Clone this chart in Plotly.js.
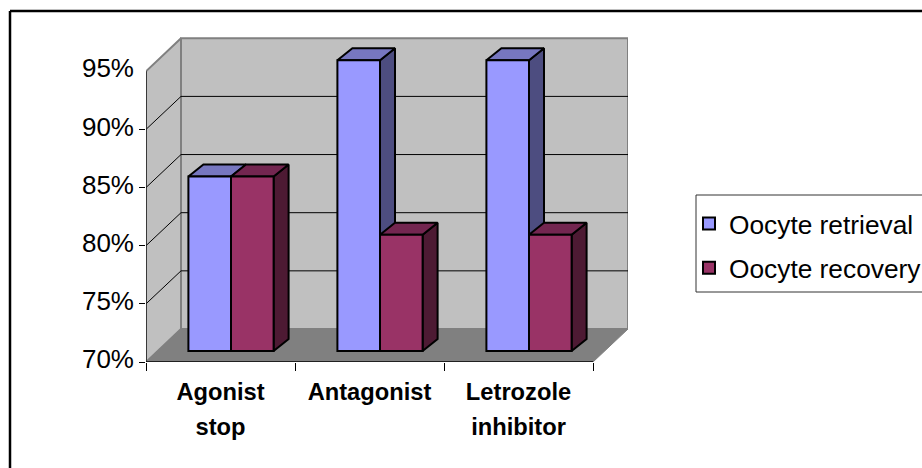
<!DOCTYPE html>
<html><head><meta charset="utf-8">
<script src="https://cdn.plot.ly/plotly-3.0.1.min.js"></script>
<style>html,body{margin:0;padding:0;background:#fff;overflow:hidden}#c{width:922px;height:468px}</style>
</head><body><div id="c"></div>
<script>
const categories = ['Agonist<br>stop', 'Antagonist', 'Letrozole<br>inhibitor'];
const retrieval = [85, 95, 95];
const recovery = [85, 80, 80];
const yTicks = [70, 75, 80, 85, 90, 95];

const W = 922, H = 468, L = 146, T = 36, R = 628, B = 362;
const pxX = 149, pxY = 11.63;
const yMin = 70;
const xMin = -0.5, xMax = xMin + (R - L) / pxX, yMax = yMin + (B - T) / pxY;
const wallDx = 35 / pxX, wallDy = 33 / pxY;
const xFront = xMin + 447 / pxX;
const barLiftX = 10.5 / pxX, barLiftY = 11 / pxY;
const barW = 42.6 / pxX, depX = 15 / pxX, depY = 12 / pxY;
const COLORS = {
  wall: '#C0C0C0', floor: '#808080',
  a: ['#9999FF', '#7777C0', '#4D4D80'],
  b: ['#993366', '#732650', '#4D1A33']
};
const poly = (xs, ys, fill, line, lw, z) => ({
  type: 'scatter', mode: 'lines', x: xs, y: ys, fill: 'toself', fillcolor: fill,
  line: {color: line, width: lw}, showlegend: false, hoverinfo: 'skip', cliponaxis: false, zorder: z
});
const seg = (xs, ys, color, lw, z) => ({
  type: 'scatter', mode: 'lines', x: xs, y: ys, line: {color, width: lw},
  showlegend: false, hoverinfo: 'skip', cliponaxis: false, zorder: z
});

const traces = [];
const yTop = yTicks[yTicks.length - 1];
traces.push(poly([xMin + wallDx, xMax, xMax, xMin + wallDx, xMin + wallDx],
  [yMin + wallDy, yMin + wallDy, yTop + wallDy, yTop + wallDy, yMin + wallDy], COLORS.wall, COLORS.floor, 2, 0));
traces.push(poly([xMin, xMin + wallDx, xMin + wallDx, xMin, xMin],
  [yMin, yMin + wallDy, yTop + wallDy, yTop, yMin], COLORS.wall, COLORS.floor, 2, 0));
traces.push(poly([xMin, xMin + wallDx, xMax, xFront, xMin],
  [yMin, yMin + wallDy, yMin + wallDy, yMin, yMin], COLORS.floor, COLORS.floor, 1, 0));
yTicks.slice(1, -1).forEach(v => {
  traces.push(seg([xMin, xMin + wallDx, xMax], [v, v + wallDy, v + wallDy], '#000', 1, 0));
});
traces.push(seg([xMin, xMin], [yTop, yMin], '#222', 1.5, 0));
traces.push(seg([xMin, xFront], [yMin, yMin], '#000', 1.5, 0));

function addBars(name, values, off, col, zBase) {
  values.forEach((v, i) => {
    const x0 = i + barLiftX + off, x1 = x0 + barW;
    const y0 = yMin + barLiftY, y1 = v + barLiftY;
    traces.push(poly([x1, x1 + depX, x1 + depX, x1, x1], [y0, y0 + depY, y1 + depY, y1, y0], col[2], '#000', 2, zBase));
    traces.push(poly([x0, x0 + depX, x1 + depX, x1, x0], [y1, y1 + depY, y1 + depY, y1, y1], col[1], '#000', 2, zBase));
  });
  traces.push({
    type: 'bar', name, legendgroup: name, x: values.map((v, i) => i + barLiftX + off + barW / 2),
    y: values.map(v => v - yMin), base: yMin + barLiftY, width: barW,
    marker: {color: col[0], line: {color: '#000', width: 2}},
    hoverinfo: 'skip', zorder: zBase + 1, cliponaxis: false
  });
}
addBars('Oocyte retrieval', retrieval, -barW, COLORS.a, 1);
addBars('Oocyte recovery', recovery, 0, COLORS.b, 3);

const px = v => (v - L) / (R - L), py = v => (B - v) / (B - T);
const boldLabel = c => c.split('<br>').map(s => '<span style="font-size:23.7px"><b>' + s + '</b></span>').join('<br>');
const layout = {
  width: W, height: H, paper_bgcolor: '#fff', plot_bgcolor: 'rgba(0,0,0,0)',
  margin: {l: L, r: W - R, t: T, b: H - B, pad: 0, autoexpand: false},
  barmode: 'overlay', bargap: 0,
  font: {family: '"Liberation Sans", Arial, sans-serif', color: '#000'},
  xaxis: {
    type: 'linear', range: [xMin, xMax], showgrid: false, zeroline: false, showline: false,
    tickmode: 'array', tickvals: categories.map((c, i) => i), ticktext: categories.map(boldLabel),
    ticks: '', ticklen: 8, tickfont: {size: 27, color: '#000'},
    minor: {tickmode: 'array', tickvals: [-0.5, 0.5, 1.5, 2.5], ticks: 'outside', ticklen: 8, tickcolor: '#000', tickwidth: 1, showgrid: false},
    ticklabelstandoff: 10, fixedrange: true
  },
  yaxis: {
    type: 'linear', range: [yMin, yMax], showgrid: false, zeroline: false, showline: false,
    tickmode: 'array', tickvals: yTicks, ticktext: yTicks.map(v => v + '%'),
    ticks: '', tickfont: {size: 26, color: '#000'},
    minor: {tickmode: 'array', tickvals: yTicks.slice(0, -1), ticks: 'outside', ticklen: 6, tickcolor: '#000', tickwidth: 1, showgrid: false},
    ticklabelstandoff: 11, ticklabelshift: -3, fixedrange: true
  },
  legend: {
    x: px(689), y: py(200), xanchor: 'left', yanchor: 'top', bgcolor: 'rgba(0,0,0,0)', borderwidth: 0,
    font: {size: 26.3, color: '#000'}, traceorder: 'grouped', tracegroupgap: 7, itemclick: false, itemdoubleclick: false
  },
  shapes: [
    {type: 'line', xref: 'paper', yref: 'paper', x0: px(10), x1: px(922), y0: py(11), y1: py(11), line: {color: '#000', width: 2.5}},
    {type: 'line', xref: 'paper', yref: 'paper', x0: px(10), x1: px(10), y0: py(11), y1: py(468), line: {color: '#000', width: 2.5}},
    {type: 'rect', xref: 'paper', yref: 'paper', x0: px(696), x1: px(935), y0: py(195), y1: py(292), line: {color: '#333', width: 1}, fillcolor: '#fff', layer: 'below'}
  ]
};
Plotly.newPlot('c', traces, layout, {displayModeBar: false, staticPlot: true});
</script></body></html>
